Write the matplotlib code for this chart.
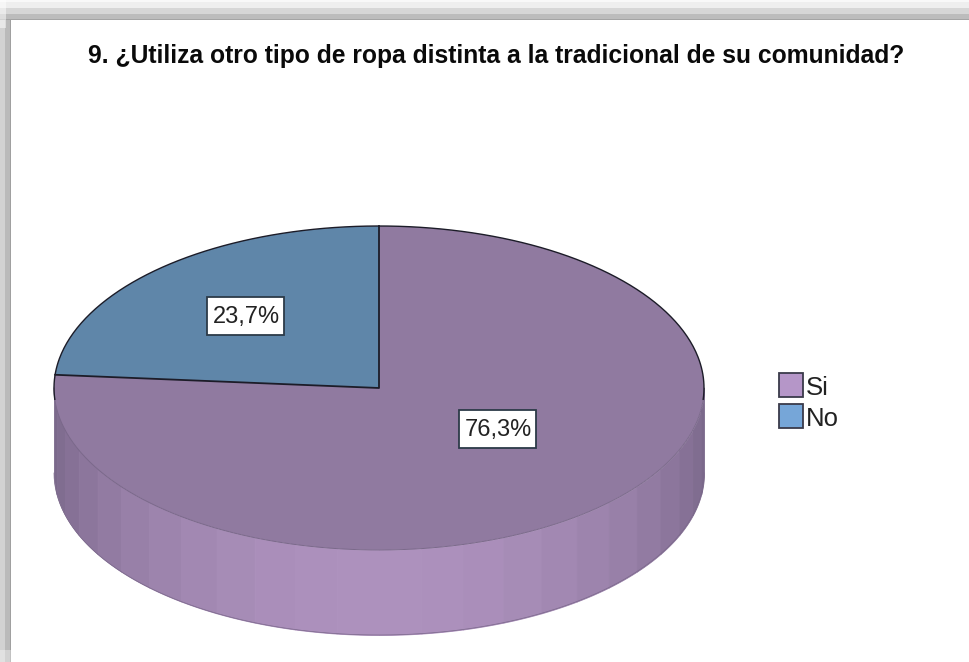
import matplotlib
matplotlib.use("Agg")
import matplotlib.pyplot as plt
import matplotlib.patches as mpatches
import numpy as np

plt.rcParams["font.family"] = ["Liberation Sans", "DejaVu Sans"]

TITLE = "9. ¿Utiliza otro tipo de ropa distinta a la tradicional de su comunidad?"
categories = ["Si", "No"]
percent = [76.3, 23.7]
percent_labels = ["76,3%", "23,7%"]

TOP_COLORS = ["#907aa0", "#5f86a9"]
LEGEND_COLORS = ["#b596c8", "#76a6d8"]
WALL_DARK = np.array([0x7a, 0x68, 0x8a]) / 255
WALL_LIGHT = np.array([0xad, 0x91, 0xbd]) / 255
EDGE = "#1c1c28"

W, H = 970, 662
# pie geometry in pixels
CX, CY, RX, RY, DEPTH = 379, 388, 325, 162, 85
N_FACETS = 24

fig = plt.figure(figsize=(W / 100, H / 100), dpi=100)

# --- window frame, behind everything ---
bg = fig.add_axes([0, 0, 1, 1])
bg.set_xlim(0, W)
bg.set_ylim(H, 0)
bg.axis("off")
for (y0, y1, c) in [(0, 2, "#f8f8f8"), (2, 8, "#eeeeee"), (8, 14, "#d6d6d6"),
                    (14, 19, "#bcbcbc"), (19, 20, "#a4a4a4")]:
    bg.add_patch(mpatches.Rectangle((0, y0), W, y1 - y0, color=c, lw=0))
for (x0, x1, c) in [(0, 5, "#d2d2d2"), (5, 10, "#bababa"), (10, 11, "#a0a0a0")]:
    bg.add_patch(mpatches.Rectangle((x0, 20), x1 - x0, H - 20, color=c, lw=0))
# lighter corners of the shadow
bg.add_patch(mpatches.Rectangle((0, 650), 11, 12, color="white", alpha=0.35, lw=0))
bg.add_patch(mpatches.Rectangle((0, 0), 6, 28, color="white", alpha=0.5, lw=0))

# --- pie, ellipse squashed by the axes box ---
depth_u = DEPTH / RY
ax = fig.add_axes([(CX - RX - 2) / W, (H - CY - RY - DEPTH - 2) / H,
                   (2 * RX + 4) / W, (2 * RY + DEPTH + 4) / H])
ax.patch.set_alpha(0)

# side wall, one strip per facet
for i in range(N_FACETS):
    a0, a1 = np.pi + i * np.pi / N_FACETS, np.pi + (i + 1) * np.pi / N_FACETS
    th = np.linspace(a0, a1, 12)
    t = abs(np.sin((a0 + a1) / 2)) ** 1.3
    col = WALL_DARK + (WALL_LIGHT - WALL_DARK) * t
    ax.fill_between(np.cos(th), np.sin(th), np.sin(th) - depth_u, color=col, lw=0.6)

ax.pie(percent, colors=TOP_COLORS, startangle=90, counterclock=False, radius=1,
       wedgeprops={"edgecolor": "none", "linewidth": 0})

# faint front rims, dark back rim and radii
th = np.linspace(np.pi, 2 * np.pi, 200)
ax.plot(np.cos(th), np.sin(th), color="#7a688a", lw=0.7)
ax.plot(np.cos(th), np.sin(th) - depth_u, color="#7a688a", lw=0.5)
th = np.radians(np.linspace(-4, 184, 300))
ax.plot(np.cos(th), np.sin(th), color=EDGE, lw=1.0)
split = np.radians(90 - 360 * percent[0] / 100)
ax.plot([np.cos(split), 0, 0], [np.sin(split), 0, 1], color=EDGE, lw=1.3)

ax.set_aspect("auto")
ax.set_xlim(-1 - 2 / RX, 1 + 2 / RX)
ax.set_ylim(-1 - depth_u - 2 / RY, 1 + 2 / RY)
ax.axis("off")

# --- text on the pixel layer ---
top = fig.add_axes([0, 0, 1, 1])
top.set_xlim(0, W)
top.set_ylim(H, 0)
top.axis("off")
top.patch.set_alpha(0)

top.text(496, 56, TITLE, fontsize=17.75, fontweight="bold", ha="center", va="center", color="#0a0a0a")

for lab, (x, y) in zip(percent_labels, [(498, 429), (246, 316)]):
    top.add_patch(mpatches.Rectangle((x - 38.5, y - 19), 77, 38, fc="white", ec="#2c3a48", lw=1.3))
    top.text(x, y + 1, lab, fontsize=17, ha="center", va="center", color="#222222")

# legend, swatches 31 px apart
for i, (name, c) in enumerate(zip(categories, LEGEND_COLORS)):
    y = 385 + 31 * i
    top.add_patch(mpatches.Rectangle((779, y - 12), 24, 24, fc=c, ec="#3a3a4a", lw=1.3))
    top.text(806, y + 3, name, fontsize=18.5, ha="left", va="center", color="#222222")

fig.savefig("out.png", dpi=100)
